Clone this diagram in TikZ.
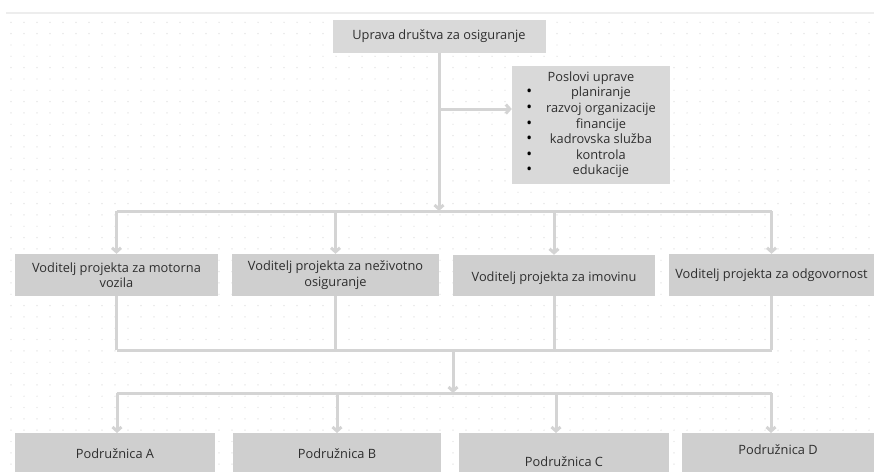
\documentclass[tikz,border=0pt]{standalone}
\usepackage{fontspec}
\setmainfont{Open Sans}
\usetikzlibrary{arrows.meta}
\definecolor{topfill}{HTML}{D9D9D9}
\definecolor{boxfill}{HTML}{CFCFCF}
\definecolor{wire}{HTML}{D4D4D4}
\definecolor{ink}{HTML}{2E2E2E}
\definecolor{griddot}{HTML}{DDDDDD}
\begin{document}
\begin{tikzpicture}[x=1pt,y=-1pt]
			\tikzstyle{box}=[rectangle, fill=boxfill, text=ink, align=center, inner sep=0pt, font=\fontsize{12.8}{15.6}\selectfont]
			\tikzstyle{wire}=[draw=wire, line width=3pt]
			\tikzstyle{arr}=[wire, -{Straight Barb[length=4pt,width=9pt]}]
			\newcommand{\blt}{\textcolor{black}{\scalebox{1.2}{\textbullet}}}
			\useasboundingbox (0,0) rectangle (874,472);
			% canvas
			\draw[draw=black!7, line width=2pt] (6,12.7) -- (874,12.7);
			\foreach \i in {0,...,66}
				\foreach \j in {0,...,39}
					\fill[griddot] (11+13*\i,22.3+11.33*\j) circle (0.7pt);
			% boxes
			\node[box, fill=topfill, minimum width=213pt, minimum height=33pt] (uprava) at (439,36) {Uprava društva za osiguranje};
			\node[box, fill=topfill, minimum width=158pt, minimum height=118pt] (poslovi) at (591,125) {%
				\begin{tabular}{@{}c@{\hspace{14pt}}c@{}}
					\multicolumn{2}{@{}c@{}}{Poslovi uprave}\\
					\blt & planiranje\\
					\blt & razvoj organizacije\\
					\blt & financije\\
					\blt & kadrovska služba\\
					\blt & kontrola\\
					\blt & edukacije
				\end{tabular}};
			\node[box, minimum width=203pt, minimum height=42pt] (v1) at (116.5,275) {Voditelj projekta za motorna\\vozila};
			\node[box, minimum width=207pt, minimum height=42pt] (v2) at (335.5,275) {Voditelj projekta za neživotno\\osiguranje};
			\node[box, minimum width=202pt, minimum height=41pt, text height=11pt, text depth=0pt] (v3) at (554,275.5) {Voditelj projekta za imovinu};
			\node[box, minimum width=205pt, minimum height=42pt] (v4) at (771.5,275) {Voditelj projekta za odgovornost};
			\node[box, minimum width=200pt, minimum height=39pt, text height=12pt, text depth=0pt] (pa) at (115,452.5) {Podružnica A};
			\node[box, minimum width=208pt, minimum height=39pt, text height=12pt, text depth=0pt] (pb) at (337,452.5) {Podružnica B};
			\node[box, minimum width=210pt, minimum height=39pt, text height=28pt, text depth=0pt] (pc) at (564,452.5) {Podružnica C};
			\node[box, minimum width=192pt, minimum height=39pt, text height=8pt, text depth=4pt] (pd) at (778,452.5) {Podružnica D};
			% connectors
			\coordinate (bus1) at (439,211);
			\coordinate (side) at (439,109);
			\coordinate (bus2) at (453,350);
			\coordinate (bus3) at (453,393);
			\draw[arr] (uprava.south) -- (bus1);
			\draw[arr] (side) -- (poslovi.west |- side);
			\draw[wire] (v1.north |- bus1) -- (v4.north |- bus1);
			\foreach \n in {v1,v2,v3,v4}
				\draw[arr] (\n.north |- bus1) -- (\n.north);
			\foreach \n in {v1,v2,v3,v4}
				\draw[wire] (\n.south) -- (\n.south |- bus2);
			\draw[wire] (v1.south |- bus2) -- (v4.south |- bus2);
			\draw[arr] (bus2) -- (bus3);
			\draw[wire] (v1.south |- bus3) -- (v4.south |- bus3);
			\foreach \n/\x in {pa/117,pb/337,pc/556,pd/771}
				\draw[arr] (\x,393) -- (\x,433);
		\end{tikzpicture}
\end{document}
